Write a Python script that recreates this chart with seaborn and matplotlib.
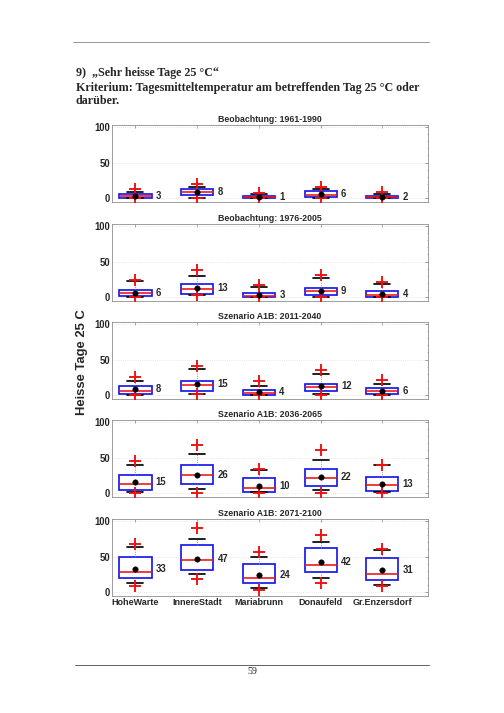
import numpy as np
import pandas as pd
import matplotlib
matplotlib.use("Agg")
import matplotlib.pyplot as plt
from matplotlib.ticker import MultipleLocator
import seaborn as sns

# Data
stations = ["HoheWarte", "InnereStadt", "Mariabrunn", "Donaufeld", "Gr.Enzersdorf"]
periods = ["Beobachtung: 1961-1990", "Beobachtung: 1976-2005",
           "Szenario A1B: 2011-2040", "Szenario A1B: 2036-2065",
           "Szenario A1B: 2071-2100"]

# rows = periods, columns = stations
mean_days = [[3, 8, 1, 6, 2],
             [6, 13, 3, 9, 4],
             [8, 15, 4, 12, 6],
             [15, 26, 10, 22, 13],
             [33, 47, 24, 42, 31]]
median_days = [[3, 9, 1, 4, 1],
               [5, 11, 2, 8, 3],
               [6, 14, 3, 11, 5],
               [13, 25.5, 7, 21, 11],
               [28.5, 45, 19, 38, 25]]
q1_days = [[0, 4, 0, 1.5, 0],
           [1, 4, 0, 3, 0.5],
           [2, 5, 0.5, 5, 2],
           [4, 12, 1, 10, 3],
           [20, 31, 12, 28, 17]]
q3_days = [[6, 13, 3, 10, 3],
           [9.5, 18, 5, 13, 8],
           [12, 20, 7, 16, 10],
           [25.5, 40, 21, 34, 23],
           [50, 66, 40, 62, 48]]
whislo_days = [[0, 0.5, 0, 0, 0],
               [0, 3, 0, 0.5, 0],
               [0, 1.5, 0, 2, 0],
               [2, 5, 1, 4, 1.5],
               [12, 25, 6, 19, 10.5]]
whishi_days = [[9, 16, 5, 12, 5],
               [23, 30, 14, 27, 18],
               [19, 36, 12, 29, 16],
               [39, 55, 33, 47, 39],
               [64, 75, 49, 70, 59]]
min_days = [[0, 0, 0, 0, 0],
            [0, 2.5, 0, 0, 0],
            [0, 1.5, 0, 0.5, 0],
            [0.5, 0, 0, 0, 0],
            [9, 18, 2.5, 13, 8]]
max_days = [[12, 20, 7, 16, 8],
            [24, 38, 17, 31, 21],
            [26, 41, 20, 35, 21],
            [45, 67, 34, 60, 40],
            [67, 90, 56, 81, 61]]

sns.set_style("white")
plt.rcParams['font.family'] = ['Liberation Sans', 'DejaVu Sans']

W, H = 504, 713
fig = plt.figure(figsize=(W / 72, H / 72), dpi=72)

def px(x, y):
    return x / W, 1 - y / H

# page header / footer
serif = ['Liberation Serif', 'DejaVu Serif']
fig.add_artist(plt.Line2D([73 / W, 429 / W], [1 - 42 / H] * 2, color='#999999', lw=1))
fig.add_artist(plt.Line2D([75 / W, 429 / W], [1 - 665 / H] * 2, color='#666666', lw=1))
fig.text(*px(76, 73), "9)  \u201eSehr heisse Tage 25 \u00b0C\u201c", family=serif,
         fontsize=12, weight='bold', va='center')
fig.text(*px(76, 88), "Kriterium: Tagesmitteltemperatur am betreffenden Tag 25 \u00b0C oder",
         family=serif, fontsize=12, weight='bold', va='center')
fig.text(*px(76, 101), "dar\u00fcber.", family=serif, fontsize=12, weight='bold', va='center')
fig.text(*px(252, 671), "59", family=serif, fontsize=10, ha='center', va='center')

positions = np.arange(1, len(stations) + 1)
tops = [125, 224, 322, 420, 519]
ax_h = 77

for i, period in enumerate(periods):
    l, b = 112 / W, 1 - (tops[i] + ax_h) / H
    ax = fig.add_axes([l, b, 316 / W, ax_h / H])

    stats = []
    for j in range(len(stations)):
        stats.append(dict(med=median_days[i][j], q1=q1_days[i][j], q3=q3_days[i][j],
                          whislo=whislo_days[i][j], whishi=whishi_days[i][j],
                          fliers=[], label=stations[j]))
    ax.bxp(stats, positions=positions, widths=0.52, capwidths=0.26,
           showfliers=False, patch_artist=True,
           boxprops=dict(facecolor='white', edgecolor='#1515ee', lw=1.7),
           medianprops=dict(color='#ee1111', lw=1.6),
           whiskerprops=dict(color='#8080cc', lw=0.9, ls=':'),
           capprops=dict(color='black', lw=1.7))

    sns.scatterplot(x=positions, y=max_days[i], marker='+', color='#ee1111',
                    s=150, linewidth=1.9, ax=ax, zorder=4)
    sns.scatterplot(x=positions, y=min_days[i], marker='+', color='#ee1111',
                    s=150, linewidth=1.9, ax=ax, zorder=4)
    sns.scatterplot(x=positions, y=mean_days[i], color='black', s=30,
                    edgecolor='black', ax=ax, zorder=5)

    for j in range(len(stations)):
        ax.text(positions[j] + 0.33, mean_days[i][j], str(mean_days[i][j]),
                fontsize=9.5, weight='bold', va='center', ha='left')

    ax.set_xlim(0.62, 5.74)
    ax.set_ylim(-5.7, 102.9)
    ax.set_yticks([0, 50, 100])
    ax.yaxis.set_minor_locator(MultipleLocator(10))
    ax.set_xticks(positions)
    if i == len(periods) - 1:
        ax.set_xticklabels(stations, fontsize=9, weight='bold')
    else:
        ax.set_xticklabels([])
    for lab in ax.get_yticklabels():
        lab.set_fontsize(9.5)
        lab.set_fontweight('bold')
    ax.tick_params(which='both', direction='in', top=True, right=True,
                   color='#888888', pad=2)
    ax.tick_params(which='major', length=3)
    ax.tick_params(which='minor', length=1.5)
    ax.grid(axis='y', color='#dddddd', ls=':', lw=0.8)
    ax.set_axisbelow(True)
    for sp in ax.spines.values():
        sp.set_color('#888888')
        sp.set_linewidth(0.8)
    ax.set_title(period, fontsize=8.8, weight='bold', pad=3)
    ax.set_xlabel('')
    ax.set_ylabel('')

fig.text(*px(82, 362), "Heisse Tage 25 C", rotation=90, fontsize=13, weight='bold',
         ha='center', va='center')

fig.savefig("out.png", dpi=72)
